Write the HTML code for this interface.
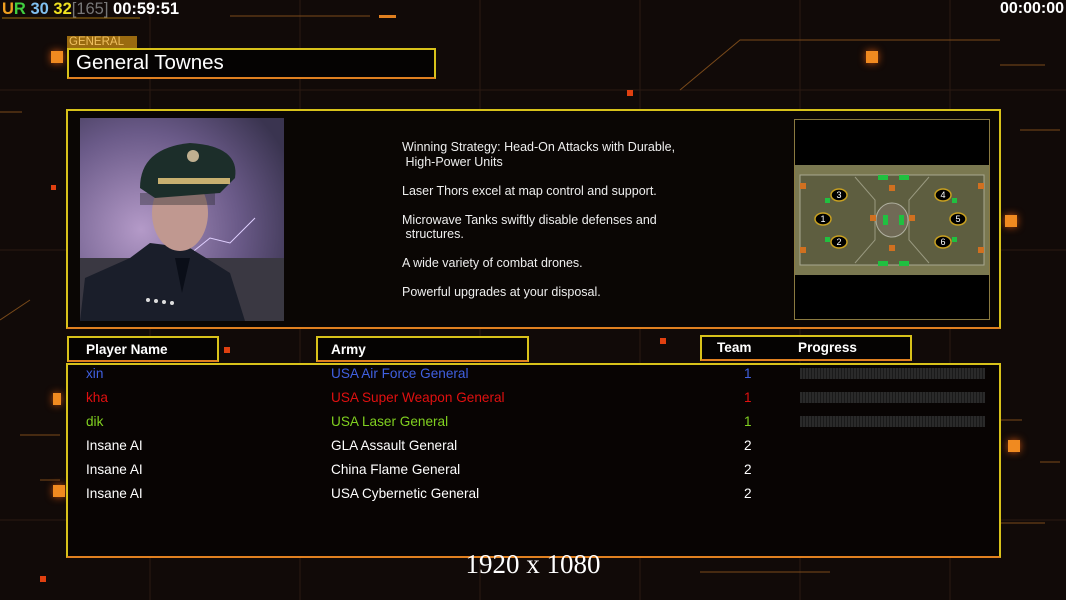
<!DOCTYPE html>
<html><head><meta charset="utf-8"><style>
*{margin:0;padding:0;box-sizing:border-box}
body{width:1066px;height:600px;overflow:hidden;background:#110a08;position:relative;font-family:"Liberation Sans",sans-serif;color:#fff}
.a{position:absolute}
.box{position:absolute;border:2px solid #d8c21a;background:#050302}
.sq{position:absolute;background:#f08a20;width:12px;height:12px;box-shadow:0 0 8px #c05010}
.t{position:absolute;font-size:13.6px;white-space:nowrap}
.bar{position:absolute;left:800px;width:185px;height:11px;background:repeating-linear-gradient(90deg,#2a2a2a 0 2px,#1a1a1a 2px 3px)}
</style></head><body>
<svg class="a" style="left:0;top:0" width="1066" height="600">
<g stroke="#2a1a12" stroke-width="1">
<line x1="150" y1="0" x2="150" y2="600"/><line x1="300" y1="0" x2="300" y2="600"/><line x1="480" y1="0" x2="480" y2="600"/><line x1="640" y1="0" x2="640" y2="600"/><line x1="800" y1="0" x2="800" y2="600"/><line x1="950" y1="0" x2="950" y2="600"/>
<line x1="0" y1="90" x2="1066" y2="90"/><line x1="0" y1="250" x2="1066" y2="250"/><line x1="0" y1="520" x2="1066" y2="520"/>
</g>
<g stroke="#7a4a1a" stroke-width="1" fill="none">
<line x1="230" y1="16" x2="370" y2="16"/><line x1="0" y1="112" x2="22" y2="112"/><line x1="20" y1="435" x2="60" y2="435"/>
<line x1="1000" y1="420" x2="1022" y2="420"/><line x1="1000" y1="523" x2="1045" y2="523"/><line x1="1000" y1="65" x2="1045" y2="65"/>
<line x1="1020" y1="130" x2="1060" y2="130"/><line x1="1040" y1="462" x2="1060" y2="462"/><line x1="700" y1="572" x2="830" y2="572"/>
<path d="M680 90 L740 40 L1000 40"/><path d="M0 320 L30 300"/><line x1="40" y1="480" x2="60" y2="480"/>
</g>
<g fill="#e04010"><rect x="627" y="90" width="6" height="6"/><rect x="51" y="185" width="5" height="5"/><rect x="224" y="347" width="6" height="6"/><rect x="660" y="338" width="6" height="6"/><rect x="40" y="576" width="6" height="6"/></g>
<rect x="379" y="15" width="17" height="3" fill="#e08020"/>
<line x1="2" y1="18" x2="140" y2="18" stroke="#a07010" stroke-width="1"/>
</svg>
<div class="sq" style="left:51px;top:51px"></div>
<div class="sq" style="left:866px;top:51px"></div>
<div class="sq" style="left:1005px;top:215px"></div>
<div class="sq" style="left:1008px;top:440px"></div>
<div class="sq" style="left:53px;top:485px"></div>
<div class="sq" style="left:53px;top:393px;width:8px"></div>

<div class="a" style="left:2px;top:0px;font-size:16.5px;font-weight:bold;white-space:nowrap"><span style="color:#f0a020">U</span><span style="color:#40d040">R</span> <span style="color:#80c0f0">30</span> <span style="color:#f0e020">32</span><span style="color:#777;font-weight:normal">[165]</span> 00:59:51</div>
<div class="a" style="right:2px;top:0px;font-size:16px;font-weight:bold">00:00:00</div>

<div class="a" style="left:67px;top:36px;width:70px;height:12px;background:#9a6a10;color:#f0c060;font-size:11.5px;line-height:12px;padding-left:2px">GENERAL</div>
<div class="box" style="left:67px;top:48px;width:369px;height:31px;border-bottom-color:#e08020"></div>
<div class="a" style="left:76px;top:51px;font-size:20.5px">General Townes</div>

<div class="box" style="left:66px;top:109px;width:935px;height:220px;background:#0a0604;border-bottom-color:#e08020"></div>
<svg class="a" style="left:80px;top:118px" width="204" height="203">
<defs><radialGradient id="sky" cx="0.3" cy="0.55" r="0.8"><stop offset="0" stop-color="#b49ac8"/><stop offset="0.6" stop-color="#6a5a88"/><stop offset="1" stop-color="#3a3450"/></radialGradient></defs>
<rect width="204" height="203" fill="url(#sky)"/>
<rect y="140" width="204" height="63" fill="#3a3842"/>
<path d="M175 100 L150 125 L130 120 L105 140" stroke="#e0d0ff" fill="none"/>
<path d="M0 203 L5 160 L50 140 L70 125 L110 130 L150 155 L165 203Z" fill="#1a1e2a"/>
<path d="M95 140 L102 175 L110 140Z" fill="#0a0e18"/>
<ellipse cx="100" cy="95" rx="28" ry="38" fill="#c09890"/>
<rect x="60" y="75" width="75" height="12" fill="#2a2a30" opacity="0.4"/>
<path d="M60 70 Q60 30 110 25 Q160 28 155 60 L140 75 L75 80Z" fill="#1c2e2a"/>
<rect x="78" y="60" width="72" height="6" fill="#c8b070"/>
<circle cx="113" cy="38" r="6" fill="#c0b090"/>
<g fill="#ddd"><circle cx="68" cy="182" r="2"/><circle cx="76" cy="183" r="2"/><circle cx="84" cy="184" r="2"/><circle cx="92" cy="185" r="2"/></g>
</svg>
<div class="a" style="left:402px;top:140px;font-size:12.5px;line-height:14.5px;color:#eee;white-space:pre">Winning Strategy: Head-On Attacks with Durable,
 High-Power Units

Laser Thors excel at map control and support.

Microwave Tanks swiftly disable defenses and
 structures.

A wide variety of combat drones.

Powerful upgrades at your disposal.</div>

<div class="a" style="left:794px;top:119px;width:196px;height:201px;background:#000;border:1px solid #8a7a40"></div>
<svg class="a" style="left:795px;top:165px" width="194" height="110">
<rect width="194" height="110" fill="#7a7850"/>
<rect x="5" y="10" width="184" height="90" fill="#5e5e40" stroke="#a8a890"/>
<path d="M60 12 L80 35 L80 75 L60 98 M134 12 L114 35 L114 75 L134 98" stroke="#9a9a80" fill="none"/>
<ellipse cx="97" cy="55" rx="16" ry="17" fill="#706a56" stroke="#b0b0a0"/>
<g fill="#20c040"><rect x="30" y="33" width="5" height="5"/><rect x="30" y="72" width="5" height="5"/><rect x="157" y="33" width="5" height="5"/><rect x="157" y="72" width="5" height="5"/><rect x="83" y="10" width="10" height="5"/><rect x="104" y="10" width="10" height="5"/><rect x="83" y="96" width="10" height="5"/><rect x="104" y="96" width="10" height="5"/><rect x="88" y="50" width="5" height="10"/><rect x="104" y="50" width="5" height="10"/></g>
<g fill="#d07020"><rect x="5" y="18" width="6" height="6"/><rect x="183" y="18" width="6" height="6"/><rect x="5" y="82" width="6" height="6"/><rect x="183" y="82" width="6" height="6"/><rect x="75" y="50" width="6" height="6"/><rect x="114" y="50" width="6" height="6"/><rect x="94" y="20" width="6" height="6"/><rect x="94" y="80" width="6" height="6"/></g>
<g stroke="#c8a020" stroke-width="1.5" fill="#000"><ellipse cx="44" cy="30" rx="8" ry="6"/><ellipse cx="28" cy="54" rx="8" ry="6"/><ellipse cx="44" cy="77" rx="8" ry="6"/><ellipse cx="148" cy="30" rx="8" ry="6"/><ellipse cx="163" cy="54" rx="8" ry="6"/><ellipse cx="148" cy="77" rx="8" ry="6"/></g>
<g fill="#fff" font-size="9" font-family="Liberation Sans" text-anchor="middle"><text x="44" y="33">3</text><text x="28" y="57">1</text><text x="44" y="80">2</text><text x="148" y="33">4</text><text x="163" y="57">5</text><text x="148" y="80">6</text></g>
</svg>

<div class="box" style="left:67px;top:336px;width:152px;height:26px;border-bottom-color:#e08020"></div>
<div class="t" style="left:86px;top:342px;font-weight:bold">Player Name</div>
<div class="box" style="left:316px;top:336px;width:213px;height:26px;border-bottom-color:#e08020"></div>
<div class="t" style="left:331px;top:342px;font-weight:bold">Army</div>
<div class="box" style="left:700px;top:335px;width:212px;height:26px;border-bottom-color:#e08020"></div>
<div class="t" style="left:717px;top:340px;font-weight:bold">Team</div>
<div class="t" style="left:798px;top:340px;font-weight:bold">Progress</div>

<div class="box" style="left:66px;top:363px;width:935px;height:195px;background:#080403;border-bottom-color:#e08020"></div>
<div class="t" style="left:86px;top:366px;color:#4060e0">xin</div><div class="t" style="left:331px;top:366px;color:#4060e0">USA Air Force General</div><div class="t" style="left:744px;top:366px;color:#4060e0">1</div><div class="bar" style="top:368px"></div>
<div class="t" style="left:86px;top:390px;color:#e01010">kha</div><div class="t" style="left:331px;top:390px;color:#e01010">USA Super Weapon General</div><div class="t" style="left:744px;top:390px;color:#e01010">1</div><div class="bar" style="top:392px"></div>
<div class="t" style="left:86px;top:414px;color:#80d020">dik</div><div class="t" style="left:331px;top:414px;color:#80d020">USA Laser General</div><div class="t" style="left:744px;top:414px;color:#80d020">1</div><div class="bar" style="top:416px"></div>
<div class="t" style="left:86px;top:438px">Insane AI</div><div class="t" style="left:331px;top:438px">GLA Assault General</div><div class="t" style="left:744px;top:438px">2</div>
<div class="t" style="left:86px;top:462px">Insane AI</div><div class="t" style="left:331px;top:462px">China Flame General</div><div class="t" style="left:744px;top:462px">2</div>
<div class="t" style="left:86px;top:486px">Insane AI</div><div class="t" style="left:331px;top:486px">USA Cybernetic General</div><div class="t" style="left:744px;top:486px">2</div>

<div class="a" style="left:0;width:1066px;top:549px;text-align:center;font-family:'Liberation Serif',serif;font-size:27px">1920 x 1080</div>
</body></html>
